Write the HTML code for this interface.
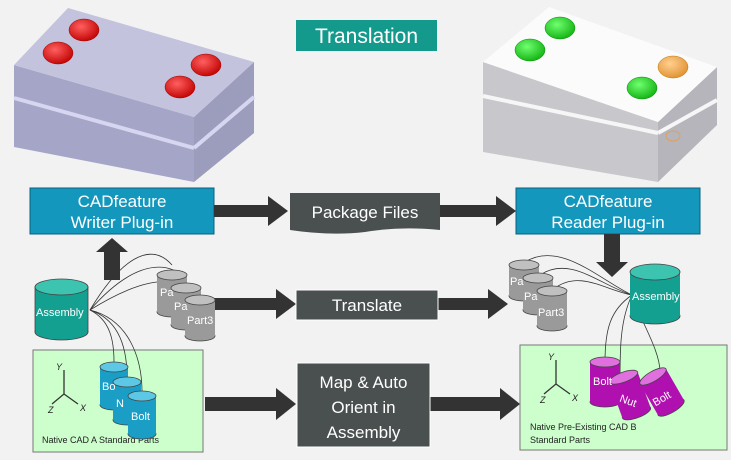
<!DOCTYPE html>
<html><head><meta charset="utf-8"><style>
html,body{margin:0;padding:0;background:#f2f2f2;}
svg{display:block;font-family:"Liberation Sans",sans-serif;}
</style></head><body>
<svg width="731" height="460" viewBox="0 0 731 460" xmlns="http://www.w3.org/2000/svg">
<defs>
<radialGradient id="red" cx="0.4" cy="0.35" r="0.7"><stop offset="0" stop-color="#ff6060"/><stop offset="1" stop-color="#c00000"/></radialGradient>
<radialGradient id="grn" cx="0.4" cy="0.35" r="0.7"><stop offset="0" stop-color="#70ff70"/><stop offset="1" stop-color="#10b010"/></radialGradient>
<radialGradient id="org" cx="0.4" cy="0.35" r="0.7"><stop offset="0" stop-color="#ffd090"/><stop offset="1" stop-color="#e09030"/></radialGradient>
</defs>
<rect width="731" height="460" fill="#f2f2f2"/>

<!-- Left block -->
<polygon points="14,65 194,117 194,182 14,147" fill="#a5a5c8"/>
<polygon points="194,117 254,62 254,133 194,182" fill="#9c9cbc"/>
<polygon points="14,65 68,8 254,62 194,117" fill="#c3c3de"/>
<line x1="14" y1="98" x2="194" y2="148" stroke="#d6d6f0" stroke-width="4"/>
<line x1="194" y1="148" x2="254" y2="97" stroke="#d6d6f0" stroke-width="4"/>
<g stroke="#900" stroke-width="0.5">
<ellipse cx="84" cy="30" rx="15" ry="11" fill="url(#red)"/>
<ellipse cx="58" cy="53" rx="15" ry="11" fill="url(#red)"/>
<ellipse cx="206" cy="65" rx="15" ry="11" fill="url(#red)"/>
<ellipse cx="180" cy="87" rx="15" ry="11" fill="url(#red)"/>
</g>

<!-- Right block -->
<polygon points="483,62 658,122 658,182 483,152" fill="#c8c8cc"/>
<polygon points="658,122 717,67 717,125 658,182" fill="#b5b5bb"/>
<polygon points="483,62 549,7 717,67 658,122" fill="#fbfbfb"/>
<line x1="483" y1="96" x2="658" y2="133" stroke="#f6f6f6" stroke-width="4"/>
<line x1="658" y1="133" x2="717" y2="100" stroke="#f6f6f6" stroke-width="4"/>
<g stroke="#080" stroke-width="0.5">
<ellipse cx="560" cy="28" rx="15" ry="11" fill="url(#grn)"/>
<ellipse cx="530" cy="50" rx="15" ry="11" fill="url(#grn)"/>
<ellipse cx="642" cy="88" rx="15" ry="11" fill="url(#grn)"/>
<ellipse cx="673" cy="67" rx="15" ry="11" fill="url(#org)" stroke="#b70"/>
</g>
<ellipse cx="673" cy="136" rx="7" ry="5" fill="none" stroke="#e0a060"/>

<!-- Translation title -->
<rect x="296" y="20" width="141" height="31" fill="#149a8c"/>
<text x="366.5" y="43" font-size="21" fill="#fff" text-anchor="middle">Translation</text>

<!-- Top row boxes -->
<rect x="30" y="188" width="184" height="46" fill="#1497bd" stroke="#0a6080"/>
<text x="122" y="207" font-size="17" fill="#fff" text-anchor="middle">CADfeature</text>
<text x="122" y="228" font-size="17" fill="#fff" text-anchor="middle">Writer Plug-in</text>
<rect x="516" y="188" width="184" height="46" fill="#1497bd" stroke="#0a6080"/>
<text x="608" y="207" font-size="17" fill="#fff" text-anchor="middle">CADfeature</text>
<text x="608" y="228" font-size="17" fill="#fff" text-anchor="middle">Reader Plug-in</text>
<path d="M290,193 H440 V230 Q400,226 365,232 Q330,236 290,230 Z" fill="#4a4f4f"/>
<text x="365" y="218" font-size="17" fill="#fff" text-anchor="middle">Package Files</text>

<!-- Big arrows -->
<g fill="#333">
<polygon points="214,205 268,205 268,196 288,211 268,226 268,217 214,217"/>
<polygon points="440,205 496,205 496,196 516,211 496,226 496,217 440,217"/>
<polygon points="104,280 104,252 96,252 112,238 128,252 120,252 120,280"/>
<polygon points="604,234 620,234 620,262 628,262 612,277 596,262 604,262"/>
<polygon points="214,298 276,298 276,289 296,304 276,319 276,310 214,310"/>
<polygon points="438,298 488,298 488,289 508,304 488,319 488,310 438,310"/>
<polygon points="205,397 276,397 276,388 296,404 276,420 276,411 205,411"/>
<polygon points="430,397 500,397 500,388 520,404 500,420 500,411 430,411"/>
</g>

<!-- Middle boxes -->
<rect x="296" y="290" width="142" height="30" fill="#4a4f4f" stroke="#fff"/>
<text x="367" y="311" font-size="17" fill="#fff" text-anchor="middle">Translate</text>
<rect x="297" y="363" width="133" height="84" fill="#4a4f4f" stroke="#fff"/>
<text x="363.5" y="388" font-size="17" fill="#fff" text-anchor="middle">Map &amp; Auto</text>
<text x="363.5" y="413" font-size="17" fill="#fff" text-anchor="middle">Orient in</text>
<text x="363.5" y="438" font-size="17" fill="#fff" text-anchor="middle">Assembly</text>

<!-- Green boxes -->
<rect x="33" y="350" width="170" height="102" fill="#ccffcc" stroke="#777"/>
<text x="42" y="443" font-size="9" fill="#222">Native CAD A Standard Parts</text>
<rect x="520" y="345" width="207" height="105" fill="#ccffcc" stroke="#777"/>
<text x="530" y="430" font-size="9" fill="#222">Native Pre-Existing CAD B</text>
<text x="530" y="443" font-size="9" fill="#222">Standard Parts</text>
<!-- axes -->
<g stroke="#333" stroke-width="1.3" fill="none">
<path d="M64,370 V394 L52,404 M64,394 L78,404"/>
<path d="M556,360 V384 L544,394 M556,384 L570,394"/>
</g>
<g font-size="9" font-style="italic" fill="#222">
<text x="56" y="370">Y</text><text x="48" y="413">Z</text><text x="80" y="411">X</text>
<text x="548" y="360">Y</text><text x="540" y="403">Z</text><text x="572" y="401">X</text>
</g>

<!-- connectors left -->
<g stroke="#333" stroke-width="0.8" fill="none">
<path d="M90,310 C120,260 150,240 172,265"/>
<path d="M90,310 C125,270 160,255 186,278"/>
<path d="M90,310 C130,285 170,270 200,292"/>
<path d="M90,310 C110,320 114,340 114,362"/>
<path d="M90,310 C120,320 127,350 127,377"/>
<path d="M90,310 C130,320 142,360 142,392"/>
<path d="M632,295 C600,280 560,240 525,262"/>
<path d="M632,295 C600,285 570,255 540,275"/>
<path d="M632,295 C605,290 580,270 555,288"/>
<path d="M632,295 C610,310 605,330 605,362"/>
<path d="M632,295 C620,320 620,350 620,380"/>
<path d="M632,295 C640,320 660,350 660,372"/>
</g>

<!-- cylinders macro -->
<g stroke="#444" stroke-width="0.8">
<!-- left assembly -->
<rect x="35" y="287" width="53" height="45" fill="#14a090"/><ellipse cx="61.5" cy="332" rx="26.5" ry="8" fill="#14a090"/><rect x="35.5" y="287" width="52" height="45" fill="#14a090" stroke="none"/><ellipse cx="61.5" cy="287" rx="26.5" ry="8" fill="#3cc4b0"/>
<!-- left parts -->
<g fill="#9a9a9a">
<ellipse cx="172" cy="312" rx="15" ry="5"/><rect x="157" y="275" width="30" height="37" stroke="none"/><ellipse cx="172" cy="275" rx="15" ry="5" fill="#c0c0c0"/>
<ellipse cx="186" cy="325" rx="15" ry="5"/><rect x="171" y="288" width="30" height="37" stroke="none"/><ellipse cx="186" cy="288" rx="15" ry="5" fill="#c0c0c0"/>
<ellipse cx="200" cy="336" rx="15" ry="5"/><rect x="185" y="300" width="30" height="36" stroke="none"/><ellipse cx="200" cy="300" rx="15" ry="5" fill="#c0c0c0"/>
</g>
<!-- left bolts -->
<g fill="#1a9ec6">
<ellipse cx="114" cy="405" rx="14" ry="5"/><rect x="100" y="367" width="28" height="38" stroke="none"/><ellipse cx="114" cy="367" rx="14" ry="5" fill="#5cc8e6"/>
<ellipse cx="127" cy="420" rx="14" ry="5"/><rect x="113" y="382" width="28" height="38" stroke="none"/><ellipse cx="127" cy="382" rx="14" ry="5" fill="#5cc8e6"/>
<ellipse cx="142" cy="434" rx="14" ry="5"/><rect x="128" y="396" width="28" height="38" stroke="none"/><ellipse cx="142" cy="396" rx="14" ry="5" fill="#5cc8e6"/>
</g>
<!-- right parts -->
<g fill="#9a9a9a">
<ellipse cx="524" cy="296" rx="15" ry="5"/><rect x="509" y="265" width="30" height="31" stroke="none"/><ellipse cx="524" cy="265" rx="15" ry="5" fill="#c0c0c0"/>
<ellipse cx="538" cy="310" rx="15" ry="5"/><rect x="523" y="278" width="30" height="32" stroke="none"/><ellipse cx="538" cy="278" rx="15" ry="5" fill="#c0c0c0"/>
<ellipse cx="552" cy="326" rx="15" ry="5"/><rect x="537" y="291" width="30" height="35" stroke="none"/><ellipse cx="552" cy="291" rx="15" ry="5" fill="#c0c0c0"/>
</g>
<!-- right assembly -->
<ellipse cx="655" cy="316" rx="25" ry="8" fill="#14a090"/><rect x="630" y="272" width="50" height="44" fill="#14a090" stroke="none"/><ellipse cx="655" cy="272" rx="25" ry="8" fill="#3cc4b0"/>
<!-- magenta -->
<g fill="#b010b0">
<ellipse cx="605" cy="402" rx="15" ry="5"/><rect x="590" y="362" width="30" height="40" stroke="none"/><ellipse cx="605" cy="362" rx="15" ry="5" fill="#e070e0"/>
<g transform="rotate(-20 630 395)"><ellipse cx="630" cy="414" rx="15" ry="5"/><rect x="615" y="376" width="30" height="38" stroke="none"/><ellipse cx="630" cy="376" rx="15" ry="5" fill="#e070e0"/></g>
<g transform="rotate(-30 662 392)"><ellipse cx="662" cy="410" rx="15" ry="5"/><rect x="647" y="374" width="30" height="36" stroke="none"/><ellipse cx="662" cy="374" rx="15" ry="5" fill="#e070e0"/></g>
</g>
</g>
<g font-size="11" fill="#fff">
<text x="36" y="316">Assembly</text>
<text x="160" y="296">Pa</text><text x="174" y="310">Pa</text><text x="187" y="324">Part3</text>
<text x="102" y="390">Bo</text><text x="116" y="407">N</text><text x="131" y="420">Bolt</text>
<text x="510" y="285">Pa</text><text x="524" y="300">Pa</text><text x="538" y="316">Part3</text>
<text x="632" y="300">Assembly</text>
<text x="593" y="385">Bolt</text>
<text x="620" y="405" transform="rotate(20 630 400)">Nut</text>
<text x="652" y="402" transform="rotate(-30 662 398)">Bolt</text>
</g>
</svg>
</body></html>
